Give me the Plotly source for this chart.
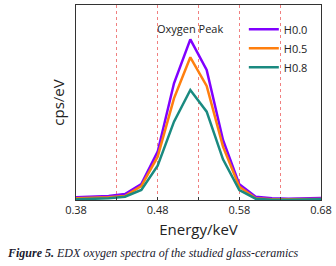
import plotly.graph_objects as go

energy = [0.38, 0.40, 0.42, 0.44, 0.46, 0.48, 0.50, 0.52, 0.54, 0.56, 0.58, 0.60, 0.62, 0.64, 0.66, 0.68]
h00 = [8, 10, 12, 18, 48, 145, 350, 482, 390, 180, 47, 10, 5, 4, 6, 6]
h05 = [5, 6, 8, 12, 42, 130, 305, 428, 342, 160, 40, 5, 2, 2, 3, 3]
h08 = [2, 3, 5, 10, 30, 103, 235, 330, 265, 122, 30, 4, 1, 1, 2, 2]
series = [("H0.0", h00, "#8000FF"), ("H0.5", h05, "#FF7F0E"), ("H0.8", h08, "#1A8A80")]
tick_vals = [0.38, 0.43, 0.48, 0.53, 0.58, 0.63, 0.68]
tick_text = ["0.38", "", "0.48", "", "0.58", "", "0.68"]

fig = go.Figure()
for name, vals, col in series:
    fig.add_trace(go.Scatter(x=energy, y=vals, mode="lines", name=name,
                             line=dict(color=col, width=2.5)))

fig.update_layout(
    width=336, height=266,
    margin=dict(l=76, r=15, t=5, b=66),
    paper_bgcolor="white", plot_bgcolor="white",
    font=dict(family="Open Sans, Noto Sans, sans-serif", color="#222"),
    showlegend=True,
    legend=dict(x=0.685, y=0.95, xanchor="left", yanchor="top",
                bgcolor="rgba(0,0,0,0)", font=dict(size=11),
                tracegroupgap=0, itemwidth=30),
    xaxis=dict(range=[0.38, 0.68], tickvals=tick_vals, ticktext=tick_text,
               showgrid=True, gridcolor="#F08080", griddash="dot", gridwidth=1,
               showline=True, linecolor="#333", linewidth=1, mirror=True,
               ticks="inside", ticklen=3, tickcolor="#333", automargin=False,
               tickfont=dict(size=11), zeroline=False,
               title=dict(text="Energy/keV", font=dict(size=15), standoff=8)),
    yaxis=dict(range=[0, 585], showticklabels=False, showgrid=False,
               showline=True, linecolor="#333", linewidth=1, mirror=True,
               ticks="", zeroline=False, automargin=False,
               title=dict(text="cps/eV", font=dict(size=15), standoff=6)),
)

fig.add_annotation(x=0.52, y=1.0, xref="x", yref="paper", yanchor="top", yshift=-14,
                   text="Oxygen Peak", showarrow=False, font=dict(size=11))
fig.add_annotation(x=-0.29, y=-0.272, xref="paper", yref="paper", xanchor="left", yanchor="middle",
                   text="<b><i>Figure 5.</i></b><i> EDX oxygen spectra of the studied glass-ceramics</i>",
                   showarrow=False,
                   font=dict(family="Liberation Serif, Times New Roman, serif", size=12, color="#1a1a2e"))

fig.write_html("out.html", config={"displayModeBar": False},
               post_script="document.body.style.margin='0';")
